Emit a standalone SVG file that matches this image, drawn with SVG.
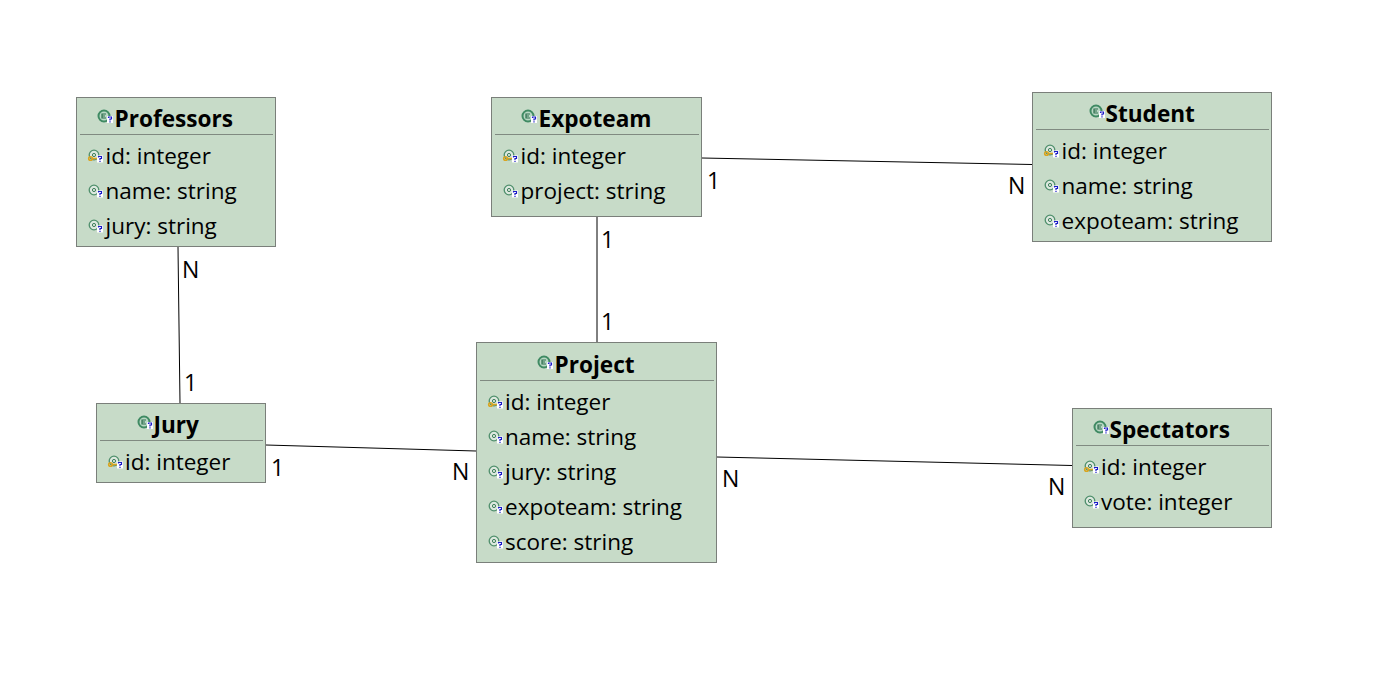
<svg xmlns="http://www.w3.org/2000/svg" width="1378" height="700" viewBox="0 0 1378 700">
<style>
text{font-family:"Open Sans","Noto Sans","DejaVu Sans",sans-serif;fill:#000}
.box{fill:#c7dbc8;stroke:#7a7f7a;stroke-width:1}
.sep{stroke:#808a81;stroke-width:1}
.t{font-size:22.6px;font-weight:700}
.a{font-size:22.5px}
.c{stroke:#000;stroke-width:1;fill:none}
.l{font-size:23px}
.k{fill:none;stroke:#d9a520;stroke-width:1.600}
</style>
<defs>
<g id="q"><rect x="0" y="0" width="6" height="7" fill="#fff"/><path d="M1.500 2V1H4.500V3H3V4.500M3 5.300V6.500" fill="none" stroke="#1a1ac8" stroke-width="1.200"/></g>
<g id="cl"><circle cx="0" cy="0" r="5.500" fill="#b9d8c4" stroke="#3f8a63" stroke-width="2"/><path d="M2 -2H-2V2H2M-2 0H1" fill="none" stroke="#2f6f4f" stroke-width="1.200"/><use href="#q" x="3" y="0"/></g>
<g id="at"><circle cx="0" cy="0" r="4.800" fill="#dce8de" stroke="#4f8f6c" stroke-width="1.300"/><circle cx="0" cy="0" r="1.600" fill="none" stroke="#3f7f5c" stroke-width="1"/><use href="#q" x="3" y="0.500"/></g>
<g id="pk"><use href="#at"/><circle cx="-3.500" cy="3.500" r="1.800" class="k"/><path d="M-2 3.500H3" class="k"/></g>
</defs>
<g id="connectors">
<path class="c" d="M178 247L180 403"/>
<path class="c" d="M266 445L476 451"/>
<path class="c" d="M597 217V342"/>
<path class="c" d="M702 158L1032 164.500"/>
<path class="c" d="M717 457L1072 465.500"/>
</g>
<g id="connector-labels">
<text class="l" x="182" y="278">N</text>
<text class="l" x="184" y="391">1</text>
<text class="l" x="271" y="476">1</text>
<text class="l" x="452" y="480">N</text>
<text class="l" x="601" y="248">1</text>
<text class="l" x="601" y="330">1</text>
<text class="l" x="707" y="189">1</text>
<text class="l" x="1008" y="194">N</text>
<text class="l" x="722" y="487">N</text>
<text class="l" x="1048" y="495">N</text>
</g>
<g id="professors">
<rect class="box" x="76.500" y="97.500" width="199" height="149"/><path class="sep" d="M80 134.500H273"/>
<use href="#cl" x="104" y="116"/><text class="t" x="114.500" y="127">Professors</text>
<use href="#pk" x="94" y="155"/><text class="a" x="105.500" y="164">id: integer</text>
<use href="#at" x="94" y="190"/><text class="a" x="105.500" y="199">name: string</text>
<use href="#at" x="94" y="225"/><text class="a" x="105.500" y="234">jury: string</text>
</g>
<g id="expoteam">
<rect class="box" x="491.500" y="97.500" width="210" height="119"/><path class="sep" d="M495 134.500H699"/>
<use href="#cl" x="528" y="116"/><text class="t" x="538.500" y="127">Expoteam</text>
<use href="#pk" x="509" y="155"/><text class="a" x="520.500" y="164">id: integer</text>
<use href="#at" x="509" y="190"/><text class="a" x="520.500" y="199">project: string</text>
</g>
<g id="student">
<rect class="box" x="1032.500" y="92.500" width="239" height="149"/><path class="sep" d="M1036 129.500H1269"/>
<use href="#cl" x="1096" y="111"/><text class="t" x="1105.500" y="122">Student</text>
<use href="#pk" x="1050" y="150"/><text class="a" x="1061.500" y="159">id: integer</text>
<use href="#at" x="1050" y="185"/><text class="a" x="1061.500" y="194">name: string</text>
<use href="#at" x="1050" y="220"/><text class="a" x="1061.500" y="229">expoteam: string</text>
</g>
<g id="jury">
<rect class="box" x="96.500" y="403.500" width="169" height="79"/><path class="sep" d="M100 440.500H263"/>
<use href="#cl" x="144" y="422"/><text class="t" x="153.500" y="433">Jury</text>
<use href="#pk" x="114" y="461"/><text class="a" x="125" y="470">id: integer</text>
</g>
<g id="project">
<rect class="box" x="476.500" y="342.500" width="240" height="220"/><path class="sep" d="M480 380.500H714"/>
<use href="#cl" x="544" y="362"/><text class="t" x="554.500" y="373">Project</text>
<use href="#pk" x="494" y="401"/><text class="a" x="505" y="410">id: integer</text>
<use href="#at" x="494" y="436"/><text class="a" x="505" y="445">name: string</text>
<use href="#at" x="494" y="471"/><text class="a" x="505" y="480">jury: string</text>
<use href="#at" x="494" y="506"/><text class="a" x="505" y="515">expoteam: string</text>
<use href="#at" x="494" y="541"/><text class="a" x="505" y="550">score: string</text>
</g>
<g id="spectators">
<rect class="box" x="1072.500" y="408.500" width="199" height="119"/><path class="sep" d="M1076 445.500H1269"/>
<use href="#cl" x="1100" y="427"/><text class="t" x="1109.500" y="438">Spectators</text>
<use href="#pk" x="1090" y="466"/><text class="a" x="1101" y="475">id: integer</text>
<use href="#at" x="1090" y="501"/><text class="a" x="1101" y="510">vote: integer</text>
</g>
</svg>
